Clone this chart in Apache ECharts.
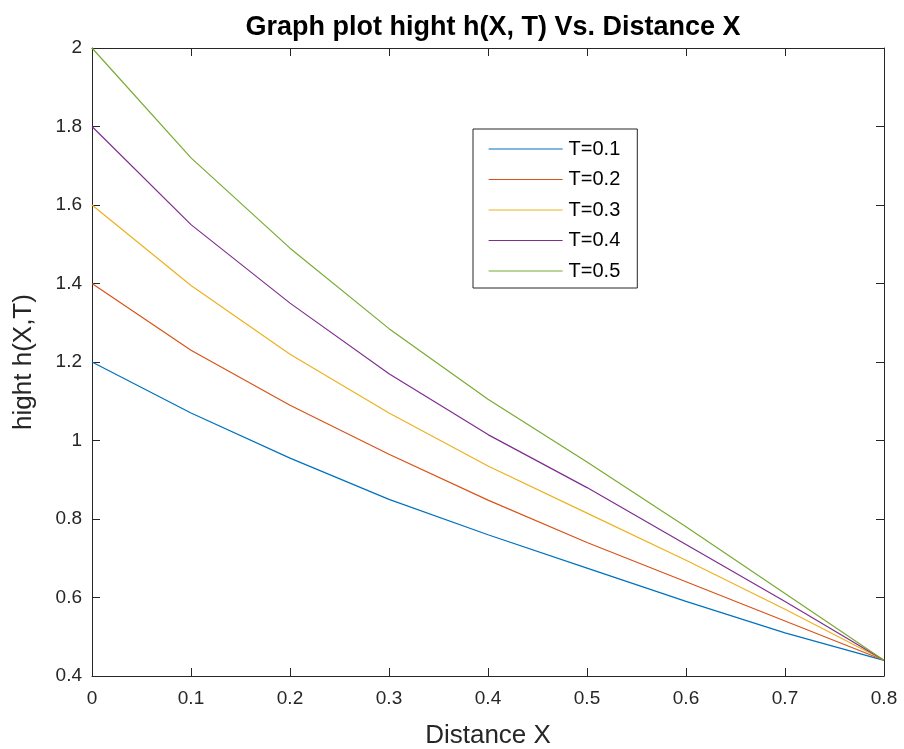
<!DOCTYPE html>
<html>
<head>
<meta charset="utf-8">
<script src="https://cdn.jsdelivr.net/npm/echarts@6/dist/echarts.min.js"></script>
<style>
html,body{margin:0;padding:0;background:#fff;}
#main{width:904px;height:749px;}
</style>
</head>
<body>
<div id="main"></div>
<script>
var xValues = [0, 0.1, 0.2, 0.3, 0.4, 0.5, 0.6, 0.7, 0.8];
var seriesNames = ['T=0.1', 'T=0.2', 'T=0.3', 'T=0.4', 'T=0.5'];
var hT01 = [1.20, 1.07, 0.955, 0.85, 0.76, 0.675, 0.59, 0.51, 0.44];
var hT02 = [1.40, 1.23, 1.09, 0.965, 0.848, 0.74, 0.64, 0.54, 0.44];
var hT03 = [1.60, 1.395, 1.22, 1.07, 0.935, 0.815, 0.695, 0.57, 0.44];
var hT04 = [1.80, 1.55, 1.35, 1.17, 1.015, 0.88, 0.735, 0.59, 0.44];
var hT05 = [2.00, 1.72, 1.49, 1.285, 1.105, 0.945, 0.78, 0.61, 0.44];
var seriesValues = [hT01, hT02, hT03, hT04, hT05];
var colors = ['#0072BD', '#D95319', '#EDB120', '#7E2F8E', '#77AC30'];

var chart = echarts.init(document.getElementById('main'), null, {renderer: 'canvas'});
var font = 'Liberation Sans, Arial, Helvetica, sans-serif';
var axisLineStyle = {color: '#262626', width: 1};

var series = seriesNames.map(function (name, i) {
  return {
    name: name,
    type: 'line',
    data: xValues.map(function (x, j) { return [x, seriesValues[i][j]]; }),
    symbol: 'none',
    showSymbol: false,
    smooth: false,
    lineStyle: {color: colors[i], width: 1.2},
    itemStyle: {color: colors[i]},
    xAxisIndex: 0,
    yAxisIndex: 0,
    animation: false
  };
});

var legendData = seriesNames.map(function (name, i) {
  return {name: name, lineStyle: {color: colors[i], width: 1.2, opacity: 1}, itemStyle: {color: colors[i], opacity: 0}};
});

var option = {
  backgroundColor: '#fff',
  animation: false,
  color: colors,
  title: {
    text: 'Graph plot hight h(X, T) Vs. Distance X',
    left: 488,
    top: 9,
    textAlign: 'center',
    textStyle: {fontFamily: font, fontSize: 27, fontWeight: 'bold', color: '#000'}
  },
  grid: {left: 92, right: 20, top: 48, bottom: 73, show: false, containLabel: false, outerBoundsMode: 'none'},
  legend: {
    data: legendData,
    orient: 'vertical',
    left: 473,
    top: 129,
    padding: [10, 17, 7, 15],
    itemGap: 10.5,
    itemWidth: 74,
    itemHeight: 20,
    borderColor: '#262626',
    borderWidth: 1,
    borderRadius: 0,
    backgroundColor: '#fff',
    textStyle: {fontFamily: font, fontSize: 20, color: '#000', padding: [0, 0, 0, 1]}
  },
  xAxis: [{
    type: 'value', min: 0, max: 0.8, interval: 0.1,
    position: 'bottom',
    name: 'Distance X', nameLocation: 'middle', nameGap: 47,
    nameTextStyle: {fontFamily: font, fontSize: 26, color: '#262626'},
    axisLine: {show: true, onZero: false, lineStyle: axisLineStyle},
    axisTick: {show: true, inside: true, length: 8, lineStyle: axisLineStyle},
    axisLabel: {fontFamily: font, fontSize: 19, color: '#262626', margin: 13},
    splitLine: {show: false}
  }, {
    type: 'value', min: 0, max: 0.8, interval: 0.1,
    position: 'top',
    axisLine: {show: true, onZero: false, lineStyle: axisLineStyle},
    axisTick: {show: true, inside: true, length: 8, lineStyle: axisLineStyle},
    axisLabel: {show: false},
    splitLine: {show: false}
  }],
  yAxis: [{
    type: 'value', min: 0.4, max: 2, interval: 0.2,
    position: 'left',
    name: 'hight h(X,T)', nameLocation: 'middle', nameGap: 55,
    nameTextStyle: {fontFamily: font, fontSize: 26, color: '#262626'},
    axisLine: {show: true, onZero: false, lineStyle: axisLineStyle},
    axisTick: {show: true, inside: true, length: 8, lineStyle: axisLineStyle},
    axisLabel: {fontFamily: font, fontSize: 19, color: '#262626', margin: 10},
    splitLine: {show: false}
  }, {
    type: 'value', min: 0.4, max: 2, interval: 0.2,
    position: 'right',
    axisLine: {show: true, onZero: false, lineStyle: axisLineStyle},
    axisTick: {show: true, inside: true, length: 8, lineStyle: axisLineStyle},
    axisLabel: {show: false},
    splitLine: {show: false}
  }],
  series: series
};
chart.setOption(option);
</script>
</body>
</html>
